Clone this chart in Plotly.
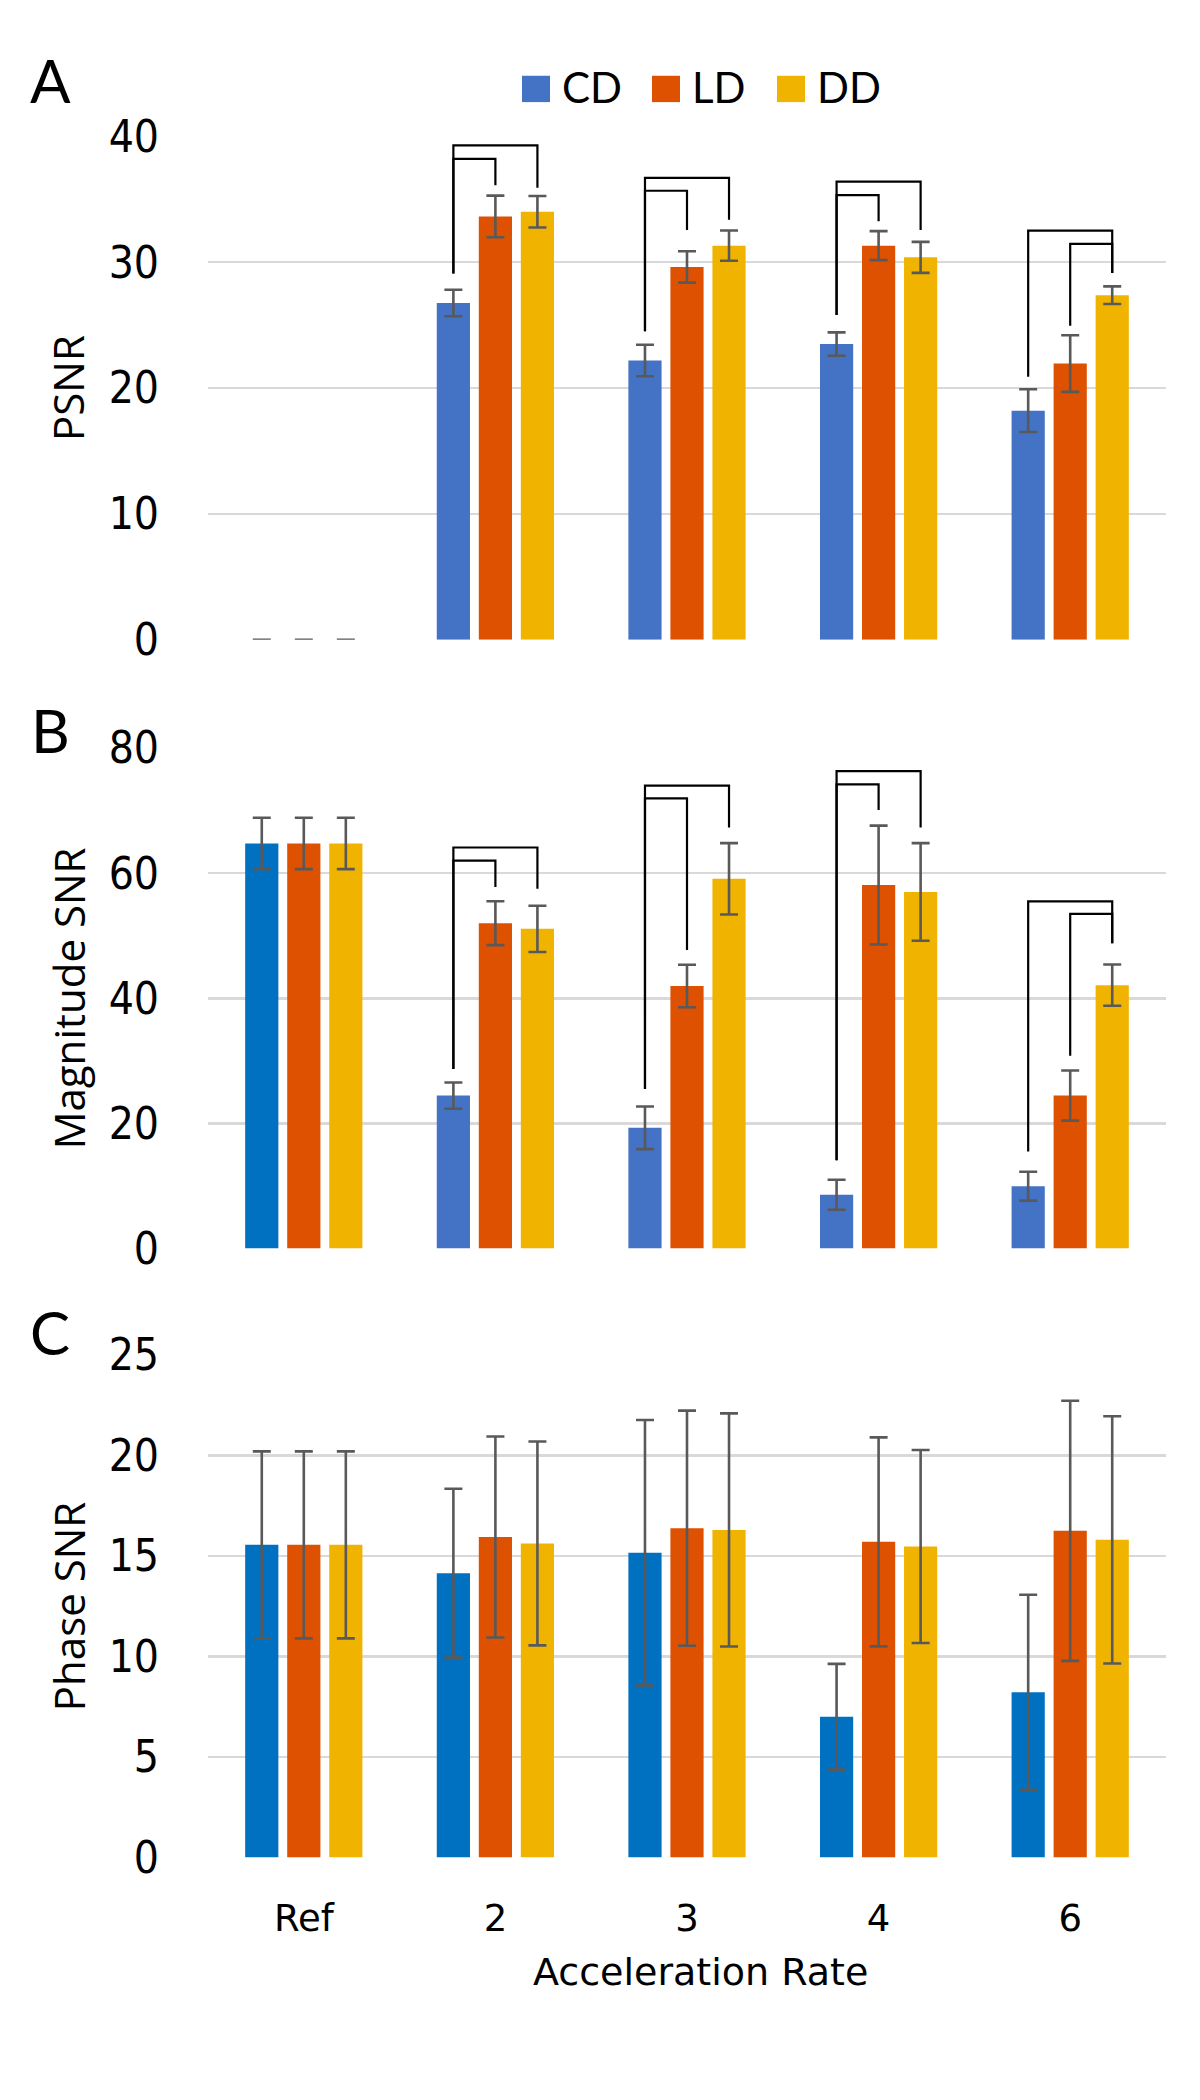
import glob
import subprocess
import plotly.graph_objects as go

# ---------------- data ----------------
categories = ["Ref", "2", "3", "4", "6"]
series = ["CD", "LD", "DD"]

psnr_cd = [0, 26.75, 22.18, 23.49, 18.2]
psnr_cd_err = [0, 1.05, 1.25, 0.93, 1.7]
psnr_ld = [0, 33.63, 29.62, 31.31, 21.94]
psnr_ld_err = [0, 1.65, 1.25, 1.15, 2.25]
psnr_dd = [0, 34.0, 31.31, 30.38, 27.37]
psnr_dd_err = [0, 1.25, 1.2, 1.23, 0.7]

mag_cd = [64.75, 24.45, 19.3, 8.6, 9.97]
mag_cd_err = [4.1, 2.1, 3.4, 2.4, 2.3]
mag_ld = [64.75, 52.0, 41.97, 58.1, 24.45]
mag_ld_err = [4.1, 3.5, 3.4, 9.5, 4.0]
mag_dd = [64.75, 51.1, 59.1, 57.0, 42.1]
mag_dd_err = [4.1, 3.7, 5.7, 7.8, 3.3]

phase_cd = [15.55, 14.14, 15.16, 7.0, 8.22]
phase_cd_err = [4.65, 4.2, 6.6, 2.63, 4.85]
phase_ld = [15.55, 15.94, 16.38, 15.7, 16.25]
phase_ld_err = [4.65, 5.0, 5.85, 5.2, 6.47]
phase_dd = [15.55, 15.62, 16.29, 15.47, 15.8]
phase_dd_err = [4.65, 5.07, 5.8, 4.8, 6.15]

# significance brackets: (group index, from series, to series, top, bottom at from, bottom at to)
psnr_brackets = [
    (1, 0, 2, 39.27, 29.1, 35.9), (1, 0, 1, 38.2, 29.1, 36.1),
    (2, 0, 2, 36.7, 24.5, 33.36), (2, 0, 1, 35.67, 24.5, 32.56),
    (3, 0, 2, 36.4, 25.8, 32.56), (3, 0, 1, 35.33, 25.8, 33.25),
    (4, 0, 2, 32.5, 20.9, 29.13), (4, 1, 2, 31.45, 24.95, 29.13),
]
mag_brackets = [
    (1, 0, 2, 64.1, 28.7, 57.5), (1, 0, 1, 62.0, 28.7, 57.8),
    (2, 0, 2, 74.0, 25.5, 67.3), (2, 0, 1, 71.95, 25.5, 47.7),
    (3, 0, 2, 76.3, 14.1, 67.3), (3, 0, 1, 74.2, 14.1, 70.1),
    (4, 0, 2, 55.5, 15.5, 48.8), (4, 1, 2, 53.5, 30.8, 48.8),
]


# ---------------- font selection (narrow font for y tick labels if available) ----------------
def _families():
    try:
        out = subprocess.run(["fc-list", ":", "family"], capture_output=True, text=True, timeout=10).stdout
        return out
    except Exception:
        files = glob.glob("/usr/share/fonts/**/*", recursive=True)
        return "\n".join(files)


_fams = _families()
if "Liberation Sans Narrow" in _fams or "LiberationSansNarrow" in _fams:
    YTICK_FONT, YTICK_SIZE = "Liberation Sans Narrow", 50
elif "DejaVu Sans Condensed" in _fams or "DejaVuSansCondensed" in _fams:
    YTICK_FONT, YTICK_SIZE = "DejaVu Sans Condensed", 44
else:
    YTICK_FONT, YTICK_SIZE = "Lato", 43

# ---------------- styles / layout ----------------
W, H = 1200, 2100
BARGAP = 0.342
BARGROUPGAP = 0.21
BLUE_A = "#4472C4"
BLUE_B = "#0070C0"
ORANGE = "#DE5100"
GOLD = "#F0B400"
ERR = "#595959"
GRID = "#D9D9D9"
FONT = "Lato, Carlito, Liberation Sans, sans-serif"
WFONT = "DejaVu Sans, Verdana, sans-serif"
TFONT = "Open Sans, DejaVu Sans, sans-serif"

X_DOM = (208, 1166)
panels = [
    dict(name="A", title="PSNR", top=113, bot=629, rng=[0, 40], dtick=10,
         data=[(psnr_cd, psnr_cd_err), (psnr_ld, psnr_ld_err), (psnr_dd, psnr_dd_err)],
         cd_colors=[BLUE_A] * 5, brackets=psnr_brackets, letter_y=55),
    dict(name="B", title="Magnitude SNR", top=740, bot=1253, rng=[0, 80], dtick=20,
         data=[(mag_cd, mag_cd_err), (mag_ld, mag_ld_err), (mag_dd, mag_dd_err)],
         cd_colors=[BLUE_B] + [BLUE_A] * 4, brackets=mag_brackets, letter_y=722),
    dict(name="C", title="Phase SNR", top=1362, bot=1877, rng=[0, 25], dtick=5,
         data=[(phase_cd, phase_cd_err), (phase_ld, phase_ld_err), (phase_dd, phase_dd_err)],
         cd_colors=[BLUE_B] * 5, brackets=[], letter_y=1338),
]


def px(x):
    return x / W


def py(y):
    return 1 - y / H


xpos = list(range(len(categories)))
slot = (1 - BARGAP) / len(series)

fig = go.Figure()
annotations = []
shapes = []

for p_i, p in enumerate(panels):
    sfx = "" if p_i == 0 else str(p_i + 1)
    xa, ya = "x" + sfx, "y" + sfx
    for s_i, (vals, errs) in enumerate(p["data"]):
        color = p["cd_colors"] if s_i == 0 else ([ORANGE] * 5 if s_i == 1 else [GOLD] * 5)
        fig.add_trace(go.Bar(
            x=xpos, y=vals, name=series[s_i], xaxis=xa, yaxis=ya,
            marker=dict(color=color, line=dict(width=0)),
            error_y=dict(type="data", array=errs, visible=True, color=ERR, thickness=2.6, width=9),
            showlegend=False, offsetgroup=str(s_i), hoverinfo="skip",
        ))
    # brackets
    bx, by = [], []
    for g, a, b, top, ba, bb in p["brackets"]:
        xa_ = g + (a - 1) * slot
        xb_ = g + (b - 1) * slot
        bx += [xa_, xa_, xb_, xb_, None]
        by += [ba, top, top, bb, None]
    if bx:
        fig.add_trace(go.Scatter(x=bx, y=by, mode="lines", xaxis=xa, yaxis=ya,
                                 line=dict(color="black", width=2.2), showlegend=False,
                                 hoverinfo="skip"))
    last = p_i == len(panels) - 1
    fig.update_layout(**{
        "xaxis" + sfx: dict(domain=[px(X_DOM[0]), px(X_DOM[1])], range=[-0.5, len(categories) - 0.5],
                            tickvals=xpos, ticktext=categories, showticklabels=last,
                            showgrid=False, zeroline=False, showline=False, ticks="",
                            anchor=ya, fixedrange=True,
                            tickfont=dict(family=WFONT, size=37, color="black"),
                            ticklabelstandoff=36),
        "yaxis" + sfx: dict(domain=[py(p["bot"]), py(p["top"])], range=p["rng"], dtick=p["dtick"],
                            showgrid=True, gridcolor=GRID, gridwidth=2.6, zeroline=False,
                            showline=False, ticks="", anchor=xa, fixedrange=True,
                            tickfont=dict(family=YTICK_FONT, size=YTICK_SIZE, color="black"),
                            ticklabelstandoff=48),
    })
    # panel letter
    annotations.append(dict(text=p["name"], x=px(50), y=py(p["letter_y"]), xref="paper", yref="paper",
                            showarrow=False, xanchor="center", yanchor="middle",
                            font=dict(family=FONT, size=60, color="black")))
    # y title
    annotations.append(dict(text=p["title"], x=px(68), y=py((p["top"] + p["bot"]) / 2),
                            xref="paper", yref="paper", showarrow=False, textangle=-90,
                            xanchor="center", yanchor="middle",
                            font=dict(family=TFONT, size=42, color="black")))

# x axis title
annotations.append(dict(text="Acceleration Rate", x=px(700), y=py(1994), xref="paper", yref="paper",
                        showarrow=False, xanchor="center", yanchor="middle",
                        font=dict(family=WFONT, size=38, color="black")))

# legend (drawn manually to match square size)
LEG_SQ_X = [522, 652, 777]
LEG_Y = (51, 78)
leg_colors = [BLUE_A, ORANGE, GOLD]
for i, name in enumerate(series):
    shapes.append(dict(type="rect", xref="paper", yref="paper",
                       x0=px(LEG_SQ_X[i]), x1=px(LEG_SQ_X[i] + 28),
                       y0=py(LEG_Y[1]), y1=py(LEG_Y[0]),
                       fillcolor=leg_colors[i], line=dict(width=0)))
    annotations.append(dict(text=name, x=px(LEG_SQ_X[i] + 38), y=py(63), xref="paper", yref="paper",
                            showarrow=False, xanchor="left", yanchor="middle",
                            font=dict(family=FONT, size=42, color="black")))

fig.update_layout(
    width=W, height=H, margin=dict(l=0, r=0, t=0, b=0),
    paper_bgcolor="white", plot_bgcolor="white",
    barmode="group", bargap=BARGAP, bargroupgap=BARGROUPGAP,
    showlegend=False, annotations=annotations, shapes=shapes,
)

fig.write_html("out.html", config={"displayModeBar": False, "staticPlot": True},
               post_script="document.body.style.margin='0';")
